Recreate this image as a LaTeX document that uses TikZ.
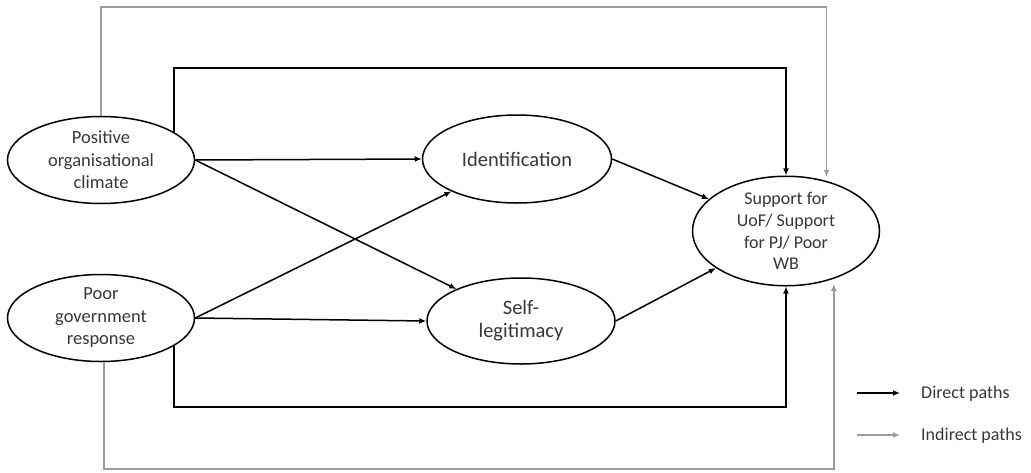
\documentclass[tikz,border=0pt]{standalone}
\usepackage{fontspec}
\setmainfont{Carlito}
\usetikzlibrary{arrows.meta,shapes.geometric,calc}
\definecolor{indirectc}{RGB}{155,155,155}
\definecolor{txt}{RGB}{55,55,55}
\begin{document}
\begin{tikzpicture}[x=1pt,y=-1pt,
  var/.style={draw=black,line width=1.5pt,ellipse,minimum width=187pt,minimum height=87pt,inner sep=0pt,align=center,text=txt,font=\fontsize{18.5}{22.5}\selectfont},
  bigvar/.style={var,font=\fontsize{20.5}{23}\selectfont},
  direct/.style={draw=black,line width=1.5pt,-{Latex[length=7pt,width=6pt]}},
  indirect/.style={draw=indirectc,line width=1.4pt,-{Latex[length=7pt,width=6pt]}},
  leg/.style={anchor=west,text=txt,font=\fontsize{18}{22}\selectfont,inner sep=0pt}]
\useasboundingbox (0,0) rectangle (1031,472);
\node[var] (pos) at (101,160) {Positive\\organisational\\climate};
\node[var] (poor) at (101,318) {Poor\\government\\response};
\node[bigvar,minimum width=189pt,minimum height=88pt] (ident) at (517,159) {Identification};
\node[bigvar,minimum width=188pt,minimum height=86pt] (self) at (521,321) {Self-\\legitimacy};
\node[var,font=\fontsize{18}{21.7}\selectfont] (sup) at (786,231) {Support for\\UoF/ Support\\for PJ/ Poor\\WB};
\coordinate (ytop) at (0,7);
\coordinate (ydir) at (0,68);
\coordinate (ydirb) at (0,407);
\coordinate (ybot) at (0,469);
\coordinate (pbs) at ([xshift=3pt]poor.south);
% indirect paths
\draw[indirect,shorten >=4pt] (pos.north) -- (pos.north |- ytop) -| (sup.51);
\draw[indirect,shorten >=5pt] (pbs) -- (pbs |- ybot) -| (sup.-45);
% direct long paths
\draw[direct] (pos.21) -- (pos.21 |- ydir) -| (sup.north);
\draw[direct] (poor.-21) -- (poor.-21 |- ydirb) -| (sup.south);
% straight paths
\draw[direct] (pos.east) -- (ident.west);
\draw[direct] (pos.east) -- (self);
\draw[direct] (poor.east) -- (ident);
\draw[direct] (poor.east) -- (self.west);
\draw[direct] (ident.east) -- (sup);
\draw[direct] (self.east) -- (sup);
% legend
\node[leg] (ldir) at (921,394) {Direct paths};
\node[leg] (lind) at (921,436) {Indirect paths};
\coordinate (d1) at (857,393);
\coordinate (d2) at (900,393);
\coordinate (i1) at (857,435);
\coordinate (i2) at (900,435);
\draw[direct,line width=1.4pt] (d1) -- (d2);
\draw[indirect,line width=1.3pt] (i1) -- (i2);
\end{tikzpicture}
\end{document}
